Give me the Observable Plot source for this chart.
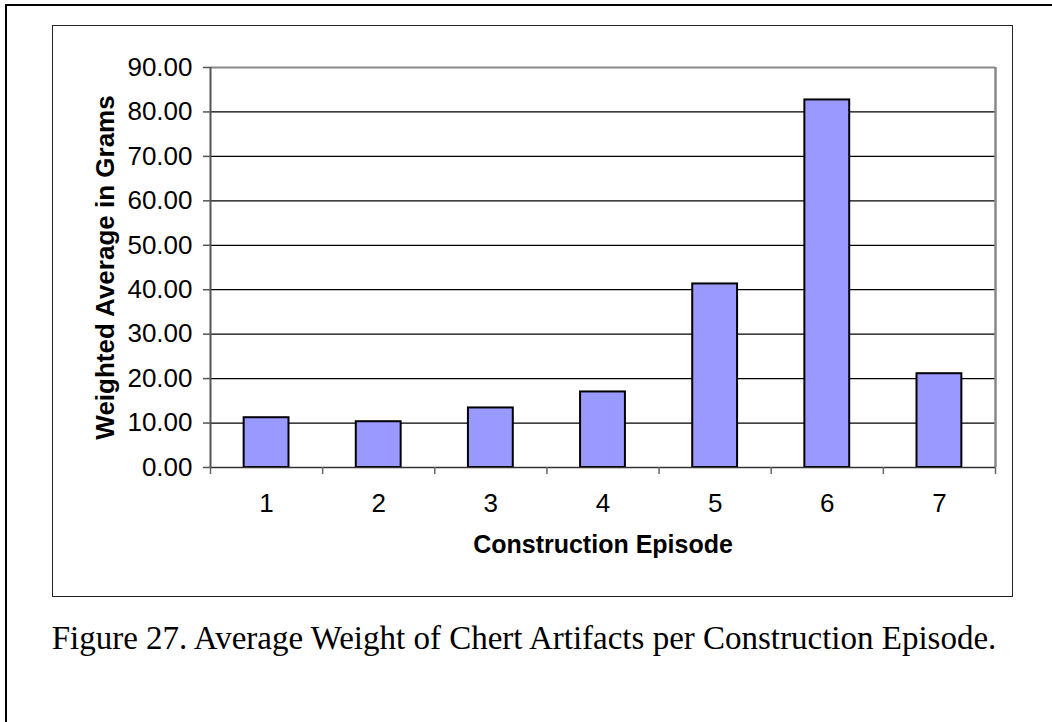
<!DOCTYPE html>
<html>
<head>
<meta charset="utf-8">
<script src="https://cdn.jsdelivr.net/npm/d3@7"></script>
<script src="https://cdn.jsdelivr.net/npm/@observablehq/plot@0.6"></script>
<style>
  html, body { margin: 0; padding: 0; background: #fff; }
  #page { position: relative; width: 1052px; height: 722px; overflow: hidden; background: #fff; }
  #chart { position: absolute; left: 0; top: 0; }
  #chart svg { background: transparent !important; }
  .outer { position: absolute; left: 5px; top: 4px; width: 1100px; height: 800px; border-top: 2.5px solid #000; border-left: 2.5px solid #000; box-sizing: border-box; pointer-events: none; }
  .inner { position: absolute; left: 52px; top: 24.5px; width: 961px; height: 572.5px; border: 1.5px solid #222; box-sizing: border-box; pointer-events: none; }
  .caption { position: absolute; left: 0; width: 1048px; top: 618px; text-align: center; font-family: "Liberation Serif", "Times New Roman", serif; font-size: 33px; line-height: 40px; color: #000; white-space: nowrap; }
</style>
</head>
<body>
<div id="page">
  <div id="chart"></div>
  <div class="outer"></div>
  <div class="inner"></div>
  <div class="caption">Figure 27. Average Weight of Chert Artifacts per Construction Episode.</div>
</div>
<script>
const episodes = [1, 2, 3, 4, 5, 6, 7];
const weights = [11.2, 10.3, 13.4, 17.0, 41.3, 82.7, 21.1];
const yTicks = [0, 10, 20, 30, 40, 50, 60, 70, 80, 90];
const gridTicks = [10, 20, 30, 40, 50, 60, 70, 80];
const xBoundaries = [0.5, 1.5, 2.5, 3.5, 4.5, 5.5, 6.5, 7.5];
const xTitle = "Construction Episode";
const yTitle = "Weighted Average in Grams";

const data = episodes.map((e, i) => ({episode: e, weight: weights[i]}));
const halfBar = 0.2;

const chart = Plot.plot({
  width: 1052,
  height: 722,
  marginLeft: 210,
  marginRight: 57,
  marginTop: 67,
  marginBottom: 255,
  style: {fontFamily: "'Liberation Sans', Arial, sans-serif", fontSize: "26px", background: "transparent", color: "#000"},
  x: {type: "linear", domain: [0.5, 7.5]},
  y: {domain: [0, 90]},
  marks: [
    Plot.ruleY(gridTicks, {stroke: "#000", strokeWidth: 1.2}),
    Plot.ruleY([90], {stroke: "#888", strokeWidth: 2}),
    Plot.ruleX([7.5], {stroke: "#888", strokeWidth: 2.5}),
    Plot.rectY(data, {
      x1: d => d.episode - halfBar,
      x2: d => d.episode + halfBar,
      y1: 0,
      y2: "weight",
      fill: "#9999ff",
      stroke: "#000",
      strokeWidth: 2
    }),
    Plot.ruleY([0], {stroke: "#333", strokeWidth: 1.5}),
    Plot.ruleX([0.5], {stroke: "#555", strokeWidth: 2}),
    Plot.axisY({
      ticks: yTicks,
      tickFormat: d => d.toFixed(2),
      tickSize: 7,
      tickPadding: 11,
      fontSize: 26,
      stroke: "#555",
      strokeWidth: 1.5,
      label: null
    }),
    Plot.axisX({
      ticks: xBoundaries,
      tickFormat: () => "",
      tickSize: 7,
      stroke: "#666",
      strokeWidth: 1.5,
      label: null
    }),
    Plot.axisX({
      ticks: episodes,
      tickFormat: d => String(d),
      tickSize: 0,
      tickPadding: 26,
      fontSize: 26,
      label: null
    }),
    Plot.text([xTitle], {
      frameAnchor: "bottom",
      dy: 85,
      text: d => d,
      fontSize: 25,
      fontWeight: "bold",
      fill: "#000"
    }),
    Plot.text([yTitle], {
      frameAnchor: "left",
      textAnchor: "middle",
      dx: -105,
      rotate: -90,
      text: d => d,
      fontSize: 26,
      fontWeight: "bold",
      fill: "#000"
    })
  ]
});
document.getElementById("chart").appendChild(chart);
</script>
</body>
</html>
